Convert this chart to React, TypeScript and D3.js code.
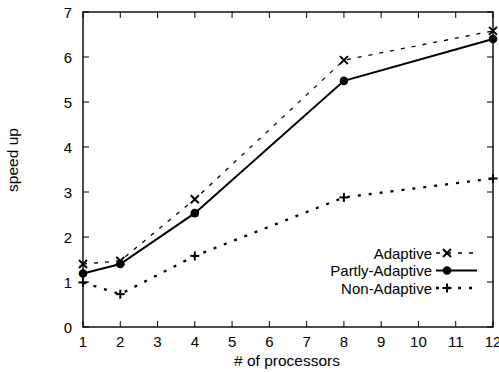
import React from 'react';
import * as d3 from 'd3';

const processors = [1, 2, 4, 8, 12];
const adaptive = [1.4, 1.47, 2.84, 5.93, 6.58];
const partlyAdaptive = [1.19, 1.4, 2.53, 5.47, 6.4];
const nonAdaptive = [0.99, 0.73, 1.58, 2.88, 3.3];
const xTicks = [1, 2, 3, 4, 5, 6, 7, 8, 9, 10, 11, 12];
const yTicks = [0, 1, 2, 3, 4, 5, 6, 7];

type Series = { name: string; values: number[]; marker: 'x' | 'dot' | 'plus'; dash: string | null; width: number };

const series: Series[] = [
  { name: 'Adaptive', values: adaptive, marker: 'x', dash: '4,7', width: 1.3 },
  { name: 'Partly-Adaptive', values: partlyAdaptive, marker: 'dot', dash: null, width: 2 },
  { name: 'Non-Adaptive', values: nonAdaptive, marker: 'plus', dash: '3,8', width: 2.3 },
];

const W = 499;
const H = 372;
const margin = { top: 12, right: 6, bottom: 45, left: 83 };

const Marker: React.FC<{ kind: Series['marker']; x: number; y: number }> = ({ kind, x, y }) => {
  const s = 4;
  if (kind === 'x') {
    return (
      <g stroke="#000" strokeWidth={2}>
        <line x1={x - s} y1={y - s} x2={x + s} y2={y + s} />
        <line x1={x - s} y1={y + s} x2={x + s} y2={y - s} />
      </g>
    );
  }
  if (kind === 'plus') {
    return (
      <g stroke="#000" strokeWidth={2}>
        <line x1={x - s - 0.5} y1={y} x2={x + s + 0.5} y2={y} />
        <line x1={x} y1={y - s - 0.5} x2={x} y2={y + s + 0.5} />
      </g>
    );
  }
  return <circle cx={x} cy={y} r={4.3} fill="#000" />;
};

export default function App() {
  const x = d3.scaleLinear().domain([1, 12]).range([margin.left, W - margin.right]);
  const y = d3.scaleLinear().domain([0, 7]).range([H - margin.bottom, margin.top]);
  const line = d3.line<[number, number]>().x(d => x(d[0])).y(d => y(d[1]));
  const font = 'Liberation Sans, Arial, Helvetica, sans-serif';
  const tickLen = 6;
  const x0 = x.range()[0], x1 = x.range()[1];
  const y0 = y.range()[0], y1 = y.range()[1];

  const legendRight = 432;
  const legendY0 = 253;
  const legendStep = 17.5;

  return (
    <svg width={W} height={H} style={{ position: 'absolute', left: 0, top: 0, background: '#fff' }} fontFamily={font}>
      <rect x={0} y={0} width={W} height={H} fill="#fff" />
      {/* ticks, mirrored on all sides */}
      <g stroke="#000" strokeWidth={1}>
        {xTicks.map(t => (
          <g key={'xt' + t}>
            <line x1={x(t)} x2={x(t)} y1={y0} y2={y0 - tickLen} />
            <line x1={x(t)} x2={x(t)} y1={y1} y2={y1 + tickLen} />
          </g>
        ))}
        {yTicks.map(t => (
          <g key={'yt' + t}>
            <line x1={x0} x2={x0 + tickLen} y1={y(t)} y2={y(t)} />
            <line x1={x1} x2={x1 - tickLen} y1={y(t)} y2={y(t)} />
          </g>
        ))}
      </g>
      <rect x={x0} y={y1} width={x1 - x0} height={y0 - y1} fill="none" stroke="#000" strokeWidth={1.4} />

      <g fontSize={15} fill="#000">
        {xTicks.map(t => (
          <text key={'xl' + t} x={x(t)} y={y0 + 20} textAnchor="middle">{t}</text>
        ))}
        {yTicks.map(t => (
          <text key={'yl' + t} x={x0 - 11} y={y(t) + 6} textAnchor="end">{t}</text>
        ))}
      </g>
      <text x={287} y={366} textAnchor="middle" fontSize={15.5}># of processors</text>
      <text transform={`translate(18,160) rotate(-90)`} textAnchor="middle" fontSize={15.5}>speed up</text>

      {series.map(s => (
        <g key={s.name}>
          <path
            d={line(processors.map((p, i) => [p, s.values[i]] as [number, number])) || ''}
            fill="none"
            stroke="#000"
            strokeWidth={s.width}
            strokeDasharray={s.dash || undefined}
          />
          {processors.map((p, i) => (
            <Marker key={i} kind={s.marker} x={x(p)} y={y(s.values[i])} />
          ))}
        </g>
      ))}

      {/* legend */}
      {series.map((s, i) => {
        const ly = legendY0 + i * legendStep;
        return (
          <g key={'lg' + s.name}>
            <text x={legendRight} y={ly + 5.5} textAnchor="end" fontSize={15}>{s.name}</text>
            <line x1={legendRight + 4} x2={legendRight + 45} y1={ly} y2={ly} stroke="#000" strokeWidth={s.width} strokeDasharray={s.dash || undefined} />
            <Marker kind={s.marker} x={legendRight + 15} y={ly} />
          </g>
        );
      })}
    </svg>
  );
}
